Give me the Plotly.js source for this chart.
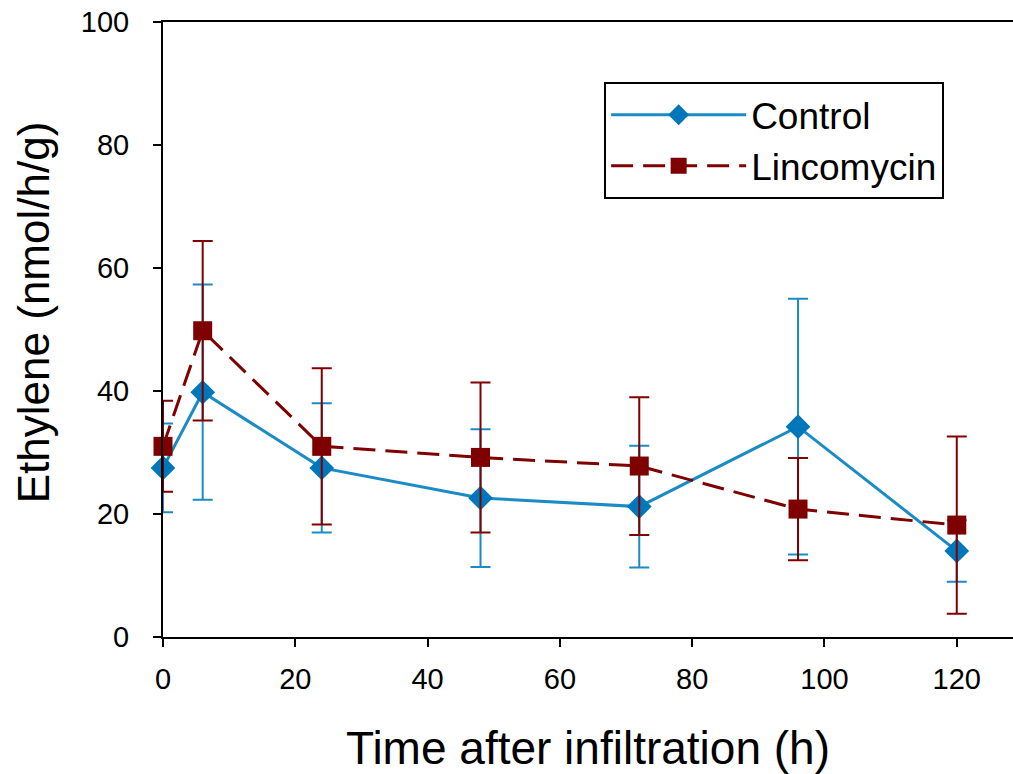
<!DOCTYPE html>
<html>
<head>
<meta charset="utf-8">
<script src="https://cdn.plot.ly/plotly-3.0.1.min.js"></script>
<style>html,body{margin:0;padding:0;background:#fff;}#chart{width:1013px;height:774px;}</style>
</head>
<body>
<div id="chart"></div>
<script>
// Data
const timeHours = [0, 6, 24, 48, 72, 96, 120];
const controlValues = [27.5, 39.8, 27.5, 22.6, 21.2, 34.2, 14.0];
const controlErrors = [7.2, 17.5, 10.5, 11.2, 9.9, 20.8, 5.0];
const lincomycinValues = [31.0, 49.8, 31.0, 29.2, 27.8, 20.8, 18.2];
const lincomycinErrors = [7.4, 14.6, 12.7, 12.2, 11.2, 8.3, 14.4];
const seriesNames = ["Control", "Lincomycin"];
const xTicks = [0, 20, 40, 60, 80, 100, 120];
const yTicks = [0, 20, 40, 60, 80, 100];
const xTitle = "Time after infiltration (h)";
const yTitle = "Ethylene (nmol/h/g)";

const blueLine = "#1B8BC6";
const blueMarker = "#0077BB";
const darkRed = "#7F0000";

const traces = [
  {
    x: timeHours, y: controlValues, name: seriesNames[0], type: "scatter", mode: "lines+markers",
    line: {color: blueLine, width: 3},
    marker: {symbol: "diamond", size: 19, color: blueMarker},
    error_y: {type: "data", array: controlErrors, visible: true, color: blueLine, thickness: 2, width: 10},
    cliponaxis: false
  },
  {
    x: timeHours, y: lincomycinValues, name: seriesNames[1], type: "scatter", mode: "lines+markers",
    line: {color: darkRed, width: 3, dash: "22px,10px"},
    marker: {symbol: "square", size: 19, color: darkRed},
    error_y: {type: "data", array: lincomycinErrors, visible: true, color: darkRed, thickness: 2, width: 10},
    cliponaxis: false
  }
];

const fam = "Liberation Sans, Arial, sans-serif";

const layout = {
  width: 1013, height: 774,
  margin: {l: 163, r: 0, t: 22, b: 137},
  paper_bgcolor: "#fff", plot_bgcolor: "#fff",
  font: {family: fam, color: "#000"},
  showlegend: true,
  legend: {
    x: 0.519, y: 0.807, xanchor: "left", yanchor: "middle",
    bordercolor: "#000", borderwidth: 2, bgcolor: "#fff",
    font: {family: fam, size: 37, color: "#000"},
    itemwidth: 135
  },
  xaxis: {
    range: [0, 128.5], tickvals: xTicks, ticktext: xTicks.map(String),
    showgrid: false, zeroline: false, showline: true, linecolor: "#000", linewidth: 2,
    mirror: true, ticks: "outside", ticklen: 8, tickwidth: 2, tickcolor: "#000",
    tickfont: {family: fam, size: 29, color: "#000"}, ticklabelstandoff: 7,
    title: {text: xTitle, font: {family: fam, size: 46, color: "#000"}, standoff: 40}
  },
  yaxis: {
    range: [0, 100], tickvals: yTicks, ticktext: yTicks.map(String),
    showgrid: false, zeroline: false, showline: true, linecolor: "#000", linewidth: 2,
    ticks: "outside", ticklen: 8, tickwidth: 2, tickcolor: "#000",
    tickfont: {family: fam, size: 29, color: "#000"}, ticklabelstandoff: 18
  },
  annotations: [{
    text: yTitle, xref: "paper", yref: "paper", x: -0.153, y: 0.528,
    xanchor: "center", yanchor: "middle", textangle: -90, showarrow: false,
    font: {family: fam, size: 44, color: "#000"}
  }]
};

Plotly.newPlot("chart", traces, layout, {displayModeBar: false, staticPlot: true});
</script>
</body>
</html>
